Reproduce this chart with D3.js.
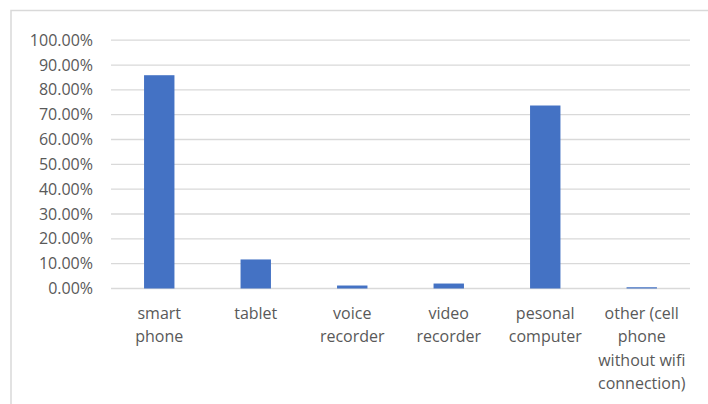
<!DOCTYPE html>
<html>
<head>
<meta charset="utf-8">
<script src="https://cdn.jsdelivr.net/npm/d3@7"></script>
<style>
  html, body { margin: 0; padding: 0; background: #fff; }
  svg { display: block; }
  text { font-family: "Open Sans", Lato, sans-serif; fill: #595959; }
</style>
</head>
<body>
<svg id="chart" width="708" height="404"></svg>
<script>
// Device usage shares
const categories = [
  ["smart", "phone"],
  ["tablet"],
  ["voice", "recorder"],
  ["video", "recorder"],
  ["pesonal", "computer"],
  ["other (cell", "phone", "without wifi", "connection)"]
];
const values = [0.859, 0.117, 0.012, 0.020, 0.737, 0.005];
const yTicks = [0, 0.1, 0.2, 0.3, 0.4, 0.5, 0.6, 0.7, 0.8, 0.9, 1.0];

const svg = d3.select("#chart");
const margin = { left: 111, right: 708 - 690, top: 40.2, bottom: 404 - 288.5 };
const W = 708, H = 404;

// Chart area frame (only top and left edges fall within view)
svg.append("rect")
  .attr("x", 11).attr("y", 10.5)
  .attr("width", 720).attr("height", 420)
  .attr("fill", "none").attr("stroke", "#d9d9d9").attr("stroke-width", 1.5);

const x = d3.scaleBand()
  .domain(d3.range(categories.length))
  .range([margin.left, W - margin.right])
  .paddingInner(0.685).paddingOuter(0.3425);

const y = d3.scaleLinear().domain([0, 1]).range([H - margin.bottom, margin.top]);

// Gridlines
svg.append("g").selectAll("line").data(yTicks).join("line")
  .attr("x1", margin.left).attr("x2", W - margin.right)
  .attr("y1", d => y(d)).attr("y2", d => y(d))
  .attr("stroke", "#d9d9d9").attr("stroke-width", 1.3);

// Y axis labels
const yAxis = d3.axisLeft(y).tickValues(yTicks).tickFormat(d3.format(".2%")).tickSize(0).tickPadding(18);
const gy = svg.append("g").attr("transform", `translate(${margin.left},0)`).call(yAxis);
gy.select(".domain").remove();
gy.selectAll("text").attr("font-size", 16).attr("fill", "#595959")
  .style("font-family", "'Open Sans', Lato, sans-serif");

// Bars
svg.append("g").selectAll("rect").data(values).join("rect")
  .attr("x", (d, i) => x(i))
  .attr("width", x.bandwidth())
  .attr("y", d => y(d))
  .attr("height", d => y(0) - y(d))
  .attr("fill", "#4472c4");

// Category labels
const lab = svg.append("g").selectAll("text").data(categories).join("text")
  .attr("text-anchor", "middle")
  .attr("font-size", 16);
lab.each(function(lines, i) {
  const t = d3.select(this);
  lines.forEach((s, k) => {
    t.append("tspan")
      .attr("x", x(i) + x.bandwidth() / 2)
      .attr("y", 319 + k * 23.3)
      .text(s);
  });
});
</script>
</body>
</html>
